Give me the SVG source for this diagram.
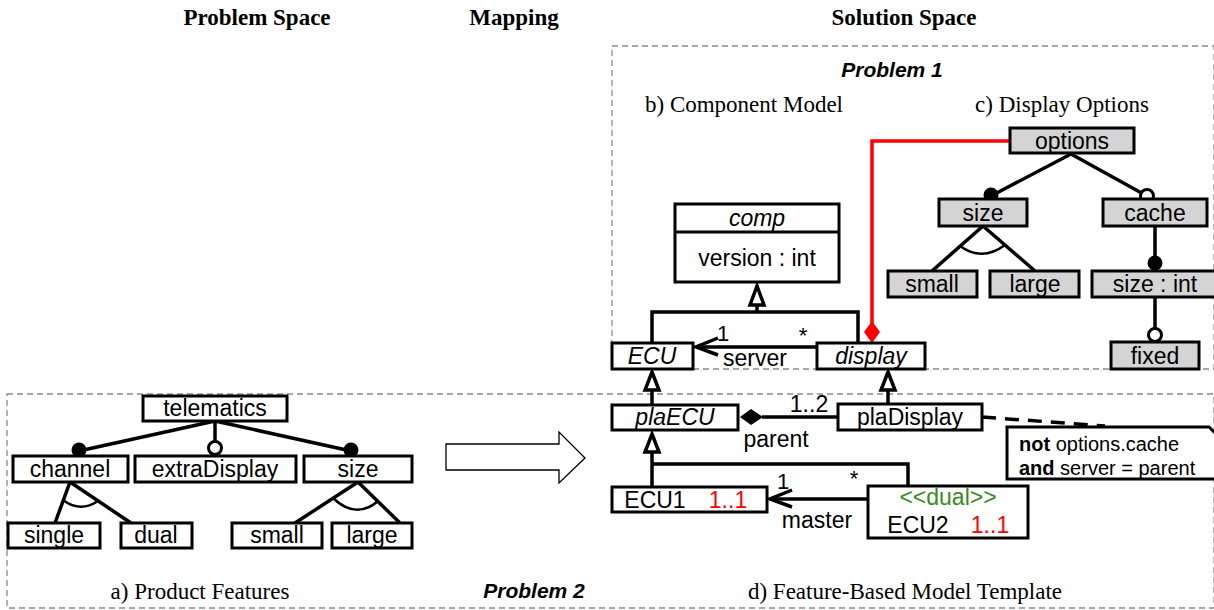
<svg xmlns="http://www.w3.org/2000/svg" width="1214" height="610" viewBox="0 0 1214 610">
<style>
.hdr{font-family:"Liberation Serif",serif;font-weight:bold;font-size:23px;text-anchor:middle;fill:#000}
.cap{font-family:"Liberation Serif",serif;font-size:23px;text-anchor:middle;fill:#000}
.prob{font-family:"Liberation Sans",Arial,sans-serif;font-weight:bold;font-style:italic;font-size:21px;text-anchor:middle;fill:#000}
.t{font-family:"Liberation Sans",Arial,sans-serif;font-size:23px;text-anchor:middle;fill:#000}
.i{font-style:italic}
.n{font-family:"Liberation Sans",Arial,sans-serif;font-size:20px;fill:#000}
.box{fill:#fff;stroke:#000;stroke-width:3}
.fbox{fill:#d4d4d4;stroke:#000;stroke-width:3}
.area{fill:none;stroke:#8c8c8c;stroke-width:1.3;stroke-dasharray:6 4}
.ln{fill:none;stroke:#000;stroke-width:3.5}
.arc{fill:none;stroke:#000;stroke-width:2.5}
.tri{fill:#fff;stroke:#000;stroke-width:3.5}
.dot{fill:#000}
.odot{fill:#fff;stroke:#000;stroke-width:3}
.red{fill:none;stroke:#ff0000;stroke-width:3.5}
.green{fill:#3a8a1e}
.rt{fill:#ff0000}
</style>

<!-- headers -->
<text class="hdr" x="257" y="25">Problem Space</text>
<text class="hdr" x="514" y="25">Mapping</text>
<text class="hdr" x="904" y="25">Solution Space</text>

<!-- areas -->
<g id="problem1">
<rect class="area" x="612" y="46" width="602" height="323"/>
<text class="prob" x="892" y="77">Problem 1</text>
<text class="cap" x="744" y="112">b) Component Model</text>
<text class="cap" x="1062" y="112">c) Display Options</text>
</g>
<g id="problem2">
<rect class="area" x="7" y="394" width="1207" height="214"/>
<text class="prob" x="534" y="598">Problem 2</text>
<text class="cap" x="200" y="599">a) Product Features</text>
<text class="cap" x="905" y="599">d) Feature-Based Model Template</text>
</g>

<!-- mapping arrow -->
<g id="mapping-arrow">
<polygon points="446,444 559,444 559,432 585,458 559,483 559,470 446,470" fill="#fff" stroke="#000" stroke-width="1.3"/>
</g>

<!-- connectors -->
<g id="connectors">
<!-- product features -->
<line class="ln" x1="215" y1="421" x2="79" y2="451"/>
<line class="ln" x1="215" y1="421" x2="215" y2="442"/>
<line class="ln" x1="215" y1="421" x2="351" y2="451"/>
<circle class="dot" cx="79" cy="450" r="7.5"/>
<circle class="odot" cx="215" cy="448" r="6.5"/>
<circle class="dot" cx="351" cy="450" r="7.5"/>
<line class="ln" x1="70" y1="482" x2="55" y2="523"/>
<line class="ln" x1="70" y1="482" x2="131" y2="523"/>
<path class="arc" d="M63,500 Q80,513 98,501"/>
<line class="ln" x1="358" y1="482" x2="295" y2="523"/>
<line class="ln" x1="358" y1="482" x2="400" y2="523"/>
<path class="arc" d="M333,498 Q356,520 378,501"/>

<!-- display options -->
<line class="ln" x1="1071" y1="154" x2="991" y2="196"/>
<line class="ln" x1="1071" y1="154" x2="1147" y2="196"/>
<circle class="dot" cx="991" cy="195" r="7.5"/>
<circle class="odot" cx="1147" cy="196" r="6.5"/>
<line class="ln" x1="983" y1="226" x2="932" y2="271"/>
<line class="ln" x1="983" y1="226" x2="1035" y2="271"/>
<path class="arc" d="M960,246 Q982,262 1005,245"/>
<line class="ln" x1="1155" y1="226" x2="1155" y2="263"/>
<circle class="dot" cx="1155" cy="263" r="7.5"/>
<line class="ln" x1="1155" y1="297" x2="1155" y2="334"/>
<circle class="odot" cx="1155" cy="335" r="6.5"/>

<!-- red mapping from display to options -->
<polyline class="red" points="1010,141 872,141 872,324"/>
<polygon points="872,321 880,332 872,343 864,332" fill="#ff0000"/>

<!-- component model generalization -->
<polyline class="ln" points="652,343 652,312 858,312 858,343"/>
<line class="ln" x1="757" y1="312" x2="757" y2="306"/>
<polygon class="tri" points="757,286 764,305 750,305"/>
<!-- server association -->
<line class="ln" x1="817" y1="347" x2="696" y2="347"/>
<polyline class="ln" points="718,338 696,347 718,355"/>
<text class="t" x="723" y="341" style="font-size:22px">1</text>
<text class="t" x="803" y="343" style="font-size:22px">*</text>
<text class="t" x="755" y="366">server</text>

<!-- ECU <- plaECU -->
<line class="ln" x1="652" y1="391" x2="652" y2="405"/>
<polygon class="tri" points="652,372 659,390 645,390"/>
<!-- display <- plaDisplay -->
<line class="ln" x1="888" y1="391" x2="888" y2="404"/>
<polygon class="tri" points="888,372 895,390 881,390"/>

<!-- composition plaDisplay -> plaECU -->
<line class="ln" x1="762" y1="417" x2="838" y2="417"/>
<polygon points="740,417 751,409 763,417 751,425" fill="#000"/>
<text class="t" x="809" y="412">1..2</text>
<text class="t" x="776" y="447">parent</text>

<!-- plaECU <- ECU1, ECU2 -->
<line class="ln" x1="652" y1="453" x2="652" y2="487"/>
<polyline class="ln" points="652,464 908,464 908,486"/>
<polygon class="tri" points="652,434 659,452 645,452"/>
<!-- master association -->
<line class="ln" x1="868" y1="499" x2="770" y2="499"/>
<polyline class="ln" points="792,490 770,499 792,507"/>
<text class="t" x="783" y="489" style="font-size:22px">1</text>
<text class="t" x="854" y="486" style="font-size:22px">*</text>
<text class="t" x="817" y="528">master</text>

<!-- constraint anchor -->
<line x1="982" y1="417" x2="1105" y2="426" stroke="#000" stroke-width="3.5" stroke-dasharray="14 9"/>
</g>

<!-- product feature nodes -->
<g id="telematics"><rect class="box" x="143" y="396" width="144" height="25"/><text class="t" x="215" y="416">telematics</text></g>
<g id="channel"><rect class="box" x="13" y="456" width="115" height="26"/><text class="t" x="70" y="477">channel</text></g>
<g id="extraDisplay"><rect class="box" x="135" y="456" width="161" height="26"/><text class="t" x="215" y="477">extraDisplay</text></g>
<g id="pf-size"><rect class="box" x="304" y="456" width="108" height="26"/><text class="t" x="358" y="477">size</text></g>
<g id="single"><rect class="box" x="8" y="523" width="92" height="25"/><text class="t" x="54" y="543">single</text></g>
<g id="dual"><rect class="box" x="121" y="523" width="71" height="25"/><text class="t" x="156" y="543">dual</text></g>
<g id="pf-small"><rect class="box" x="232" y="523" width="90" height="25"/><text class="t" x="277" y="543">small</text></g>
<g id="pf-large"><rect class="box" x="332" y="523" width="80" height="25"/><text class="t" x="372" y="543">large</text></g>

<!-- display options nodes -->
<g id="options"><rect class="fbox" x="1010" y="128" width="124" height="25"/><text class="t" x="1072" y="149">options</text></g>
<g id="do-size"><rect class="fbox" x="939" y="199" width="88" height="27"/><text class="t" x="983" y="221">size</text></g>
<g id="cache"><rect class="fbox" x="1103" y="199" width="104" height="27"/><text class="t" x="1155" y="221">cache</text></g>
<g id="do-small"><rect class="fbox" x="888" y="271" width="89" height="26"/><text class="t" x="932" y="292">small</text></g>
<g id="do-large"><rect class="fbox" x="990" y="271" width="89" height="26"/><text class="t" x="1035" y="292">large</text></g>
<g id="size-int"><rect class="fbox" x="1092" y="271" width="126" height="26"/><text class="t" x="1155" y="292">size : int</text></g>
<g id="fixed"><rect class="fbox" x="1111" y="342" width="88" height="27"/><text class="t" x="1155" y="364">fixed</text></g>

<!-- component model nodes -->
<g id="comp">
<rect class="box" x="675" y="204" width="164" height="78"/>
<line x1="675" y1="232" x2="839" y2="232" stroke="#000" stroke-width="3"/>
<text class="t i" x="757" y="226">comp</text>
<text class="t" x="757" y="266">version : int</text>
</g>
<g id="ECU"><rect class="box" x="612" y="343" width="81" height="26"/><text class="t i" x="652" y="364">ECU</text></g>
<g id="display"><rect class="box" x="817" y="343" width="108" height="26"/><text class="t i" x="871" y="364">display</text></g>

<!-- template nodes -->
<g id="plaECU"><rect class="box" x="612" y="405" width="126" height="25"/><text class="t i" x="675" y="425">plaECU</text></g>
<g id="plaDisplay"><rect class="box" x="838" y="404" width="144" height="26"/><text class="t" x="910" y="425">plaDisplay</text></g>
<g id="ECU1"><rect class="box" x="612" y="487" width="155" height="25"/><text class="t" x="655" y="508">ECU1</text><text class="t rt" x="728" y="508">1..1</text></g>
<g id="ECU2"><rect class="box" x="868" y="486" width="160" height="52"/><text class="t green" x="948" y="505">&lt;&lt;dual&gt;&gt;</text><text class="t" x="918" y="533">ECU2</text><text class="t rt" x="990" y="533">1..1</text></g>

<!-- constraint note -->
<g id="constraint">
<path d="M1007,427 L1209,427 L1222,440 L1222,479 L1007,479 Z" fill="#fff" stroke="#000" stroke-width="3"/>
<text class="n" x="1019" y="451"><tspan font-weight="bold">not</tspan> options.cache</text>
<text class="n" x="1019" y="475"><tspan font-weight="bold">and</tspan> server = parent</text>
</g>
</svg>
